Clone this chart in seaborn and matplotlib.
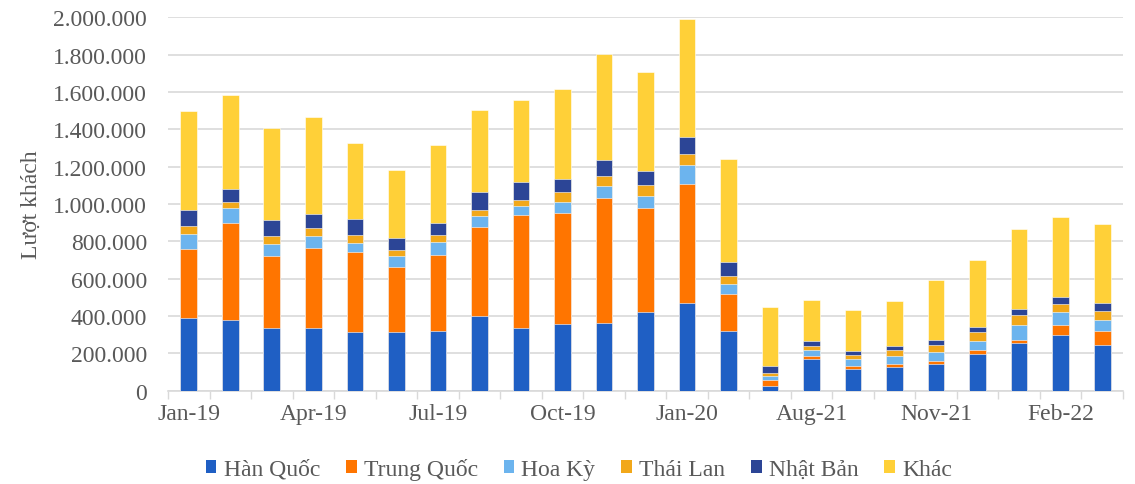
import numpy as np
import pandas as pd
import matplotlib
matplotlib.use("Agg")
import matplotlib.pyplot as plt
from matplotlib.patches import Patch
from matplotlib.ticker import FuncFormatter, FixedLocator
import seaborn as sns

months = ["Jan-19", "Feb-19", "Mar-19", "Apr-19", "May-19", "Jun-19", "Jul-19",
          "Aug-19", "Sep-19", "Oct-19", "Nov-19", "Dec-19", "Jan-20", "Feb-20",
          "Jul-21", "Aug-21", "Sep-21", "Oct-21", "Nov-21", "Dec-21",
          "Jan-22", "Feb-22", "Mar-22"]

han_quoc = [387000, 380000, 334000, 337000, 316000, 312000, 318000,
            398000, 337000, 358000, 362000, 423000, 467000, 318000,
            27000, 171000, 118000, 127000, 141000, 198000, 257000, 298000, 246000]
trung_quoc = [374000, 517000, 390000, 425000, 428000, 348000, 410000,
              479000, 604000, 596000, 670000, 556000, 642000, 198000,
              32000, 13000, 13000, 14000, 16000, 18000, 16000, 55000, 72000]
hoa_ky = [80000, 79000, 62000, 64000, 48000, 62000, 70000,
          57000, 48000, 54000, 63000, 64000, 98000, 57000,
          18000, 34000, 37000, 44000, 48000, 51000, 77000, 70000, 60000]
thai_lan = [43000, 35000, 41000, 46000, 40000, 32000, 34000,
            34000, 34000, 55000, 53000, 57000, 60000, 43000,
            18000, 23000, 21000, 31000, 39000, 50000, 55000, 43000, 48000]
nhat_ban = [82000, 68000, 86000, 72000, 87000, 64000, 67000,
            96000, 93000, 71000, 86000, 79000, 91000, 75000,
            37000, 27000, 23000, 21000, 27000, 25000, 34000, 36000, 44000]
khac = [531000, 504000, 494000, 522000, 406000, 362000, 416000,
        442000, 442000, 480000, 572000, 529000, 631000, 549000,
        316000, 216000, 218000, 244000, 321000, 360000, 426000, 428000, 421000]

series_names = ["Hàn Quốc", "Trung Quốc", "Hoa Kỳ", "Thái Lan", "Nhật Bản", "Khác"]
series_values = [han_quoc, trung_quoc, hoa_ky, thai_lan, nhat_ban, khac]
colors = ["#1F5FC4", "#FF7500", "#6CB4EE", "#F2A81A", "#2C4596", "#FFD038"]

sns.set_theme(style="white")
plt.rcParams["font.family"] = ["Liberation Serif", "DejaVu Serif"]

FS = 17
TEXT_COLOR = "#595959"

df = pd.DataFrame({"month": months})
cum = np.zeros(len(months))
for name, vals in zip(series_names, series_values):
    cum = cum + np.array(vals, dtype=float)
    df[name] = cum.copy()

fig = plt.figure(figsize=(11.35, 4.85), dpi=100)
ax = fig.add_axes([0.148, 0.1924, 0.8414, 0.7699])

# Stacked bars: draw cumulative totals from the top series down
for name, color in reversed(list(zip(series_names, colors))):
    sns.barplot(data=df, x="month", y=name, color=color, width=0.4,
                order=months, ax=ax, saturation=1,
                edgecolor="white", linewidth=0.4, zorder=3)

ax.set_ylim(0, 2000000)
ax.set_xlim(-0.5, len(months) - 0.5)
ax.set_yticks(np.arange(0, 2000001, 200000))
ax.yaxis.set_major_formatter(FuncFormatter(lambda v, p: f"{int(v):,}".replace(",", ".")))
ax.grid(axis="y", color="#D9D9D9", linewidth=1.2, zorder=0)
ax.set_axisbelow(True)

label_idx = list(range(0, len(months), 3))
ax.set_xticks(label_idx)
ax.set_xticklabels([months[i] for i in label_idx])
ax.xaxis.set_minor_locator(FixedLocator(np.arange(-0.5, len(months), 1.0)))
ax.tick_params(axis="x", which="major", length=0, pad=9, labelsize=FS, labelcolor=TEXT_COLOR)
ax.tick_params(axis="x", which="minor", length=6, width=1, color="#D9D9D9", bottom=True)
ax.tick_params(axis="y", length=0, pad=15, labelsize=FS, labelcolor=TEXT_COLOR)

for s in ["top", "right", "left"]:
    ax.spines[s].set_visible(False)
ax.spines["bottom"].set_color("#D9D9D9")
ax.spines["bottom"].set_linewidth(1.2)

ax.set_xlabel("")
ax.set_ylabel("Lượt khách", fontsize=FS, color=TEXT_COLOR, labelpad=8)

handles = [Patch(facecolor=c, edgecolor="none", label=n) for n, c in zip(series_names, colors)]
fig.legend(handles=handles, loc="center", bbox_to_anchor=(0.51, 0.031), ncol=6,
           frameon=False, fontsize=FS, handlelength=0.45, handleheight=0.45,
           handletextpad=0.3, columnspacing=1.1, labelcolor=TEXT_COLOR)

fig.savefig("out.png", dpi=100)
